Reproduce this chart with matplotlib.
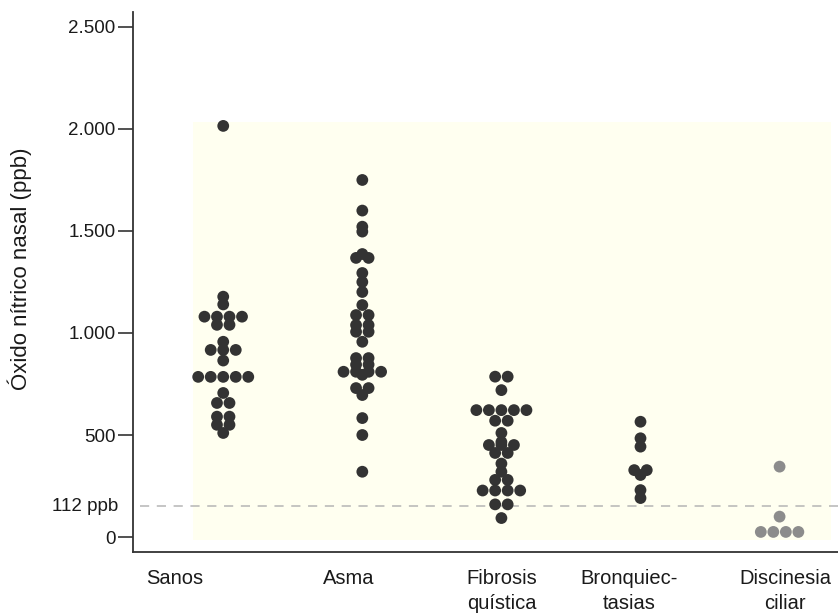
import matplotlib
matplotlib.use('Agg')
import matplotlib.pyplot as plt
import matplotlib.transforms as mtransforms
import numpy as np

plt.rcParams['font.family'] = ['Liberation Sans', 'DejaVu Sans']

# datos (ppb)
grupos = ['Sanos', 'Asma', 'Fibrosis\nquística', 'Bronquiec-\ntasias', 'Discinesia\nciliar']
sanos = [2015, 1178, 1140, 1080, 1080, 1080, 1080, 1040, 1040, 957, 917, 917, 917, 865,
         785, 785, 785, 785, 785, 706, 657, 657, 590, 590, 550, 550, 510]
asma = [1750, 1600, 1521, 1497, 1387, 1368, 1368, 1294, 1250, 1201, 1137, 1088, 1088,
        1039, 1039, 1006, 1006, 957, 877, 877, 845, 845, 810, 810, 810, 810, 795,
        730, 730, 696, 583, 500, 320]
fibrosis = [786, 786, 720, 622, 622, 622, 622, 622, 570, 570, 510, 466, 451, 451, 451,
            412, 412, 360, 320, 280, 280, 228, 228, 228, 228, 160, 160, 93]
bronquiectasias = [565, 484, 443, 328, 328, 304, 230, 191]
discinesia = [345, 100, 25, 25, 25, 25]
valores = [sanos, asma, fibrosis, bronquiectasias, discinesia]
colores = ['#333333', '#333333', '#333333', '#333333', '#8c8c8c']

corte = 150          # posicion de la linea de 112 ppb en la escala del dibujo
paso = 0.09          # separacion horizontal entre puntos de una misma fila
pos_etiquetas = [-0.35, 0.9, 2.0, 2.92, 4.04]   # las etiquetas no estan centradas bajo los puntos

fig = plt.figure(figsize=(8.38, 6.15), dpi=100)
ax = fig.add_axes([0.159, 0.1024, 0.841, 0.878])

# fondo amarillo
ax.fill_between([-0.216, 4.37], -15, 2034, color='#fffff0', zorder=0, linewidth=0)

# puntos: filas de valores iguales centradas en el grupo
for i, (vals, c) in enumerate(zip(valores, colores)):
    vals = np.array(vals)
    xs, ys = [], []
    for v in np.unique(vals):
        n = np.sum(vals == v)
        for k in range(n):
            xs.append(i + (k - (n - 1) / 2) * paso)
            ys.append(v)
    ax.scatter(xs, ys, s=72, color=c, edgecolors='none', zorder=3)

ax.axhline(corte, color='#b5b5b5', linestyle=(0, (6, 5)), linewidth=1.1, zorder=1,
           xmin=0.01)

ax.set_xlim(-0.647, 4.42)
ax.set_ylim(-73.5, 2573)

ax.set_yticks([0, 500, 1000, 1500, 2000, 2500])
ax.set_yticklabels(['0', '500', '1.000', '1.500', '2.000', '2.500'])
ax.set_xticks(pos_etiquetas)
ax.set_xticklabels(grupos, fontsize=14.5, linespacing=1.45, color='#1a1a1a')
ax.tick_params(axis='x', length=0, pad=12)
ax.tick_params(axis='y', length=10.8, width=1.2, labelsize=13.5, pad=2, color='#333333',
               labelcolor='#1a1a1a')

trans = mtransforms.blended_transform_factory(ax.transAxes, ax.transData)
ax.text(-0.021, corte, '112 ppb', transform=trans, ha='right', va='center', fontsize=13.5,
        color='#1a1a1a')

ax.set_ylabel('Óxido nítrico nasal (ppb)', fontsize=16, color='#1a1a1a')
ax.yaxis.set_label_coords(-0.143, 0.525)

for s in ['top', 'right']:
    ax.spines[s].set_visible(False)
for s in ['left', 'bottom']:
    ax.spines[s].set_linewidth(1.3)
    ax.spines[s].set_color('#333333')

plt.savefig('out.png', dpi=100)
